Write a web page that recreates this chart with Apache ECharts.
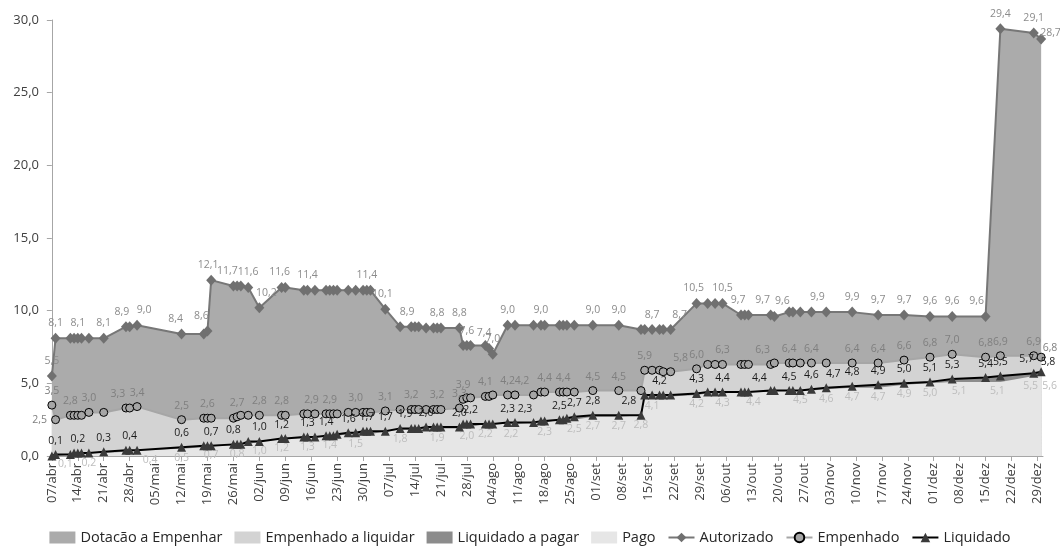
<!DOCTYPE html>
<html><head><meta charset="utf-8">
<script src="https://cdn.jsdelivr.net/npm/echarts@6/dist/echarts.min.js"></script>
<style>html,body{margin:0;padding:0;background:#fff}#c{width:1060px;height:548px}</style>
</head><body><div id="c"></div>
<script>
// ---- data ----
const dates = ['07/04','08/04','12/04','13/04','14/04','15/04','17/04','21/04','27/04','28/04',
 '30/04','12/05','18/05','19/05','20/05','26/05','27/05','28/05','30/05','02/06',
 '08/06','09/06','14/06','15/06','17/06','20/06','21/06','22/06','23/06','26/06',
 '28/06','30/06','01/07','02/07','06/07','10/07','13/07','14/07','15/07','17/07',
 '19/07','20/07','21/07','26/07','27/07','28/07','29/07','02/08','03/08','04/08',
 '08/08','10/08','15/08','17/08','18/08','22/08','23/08','24/08','26/08','31/08',
 '07/09','13/09','14/09','16/09','18/09','19/09','21/09','28/09','01/10','03/10',
 '05/10','10/10','11/10','12/10','18/10','19/10','23/10','24/10','26/10','29/10',
 '02/11','09/11','16/11','23/11','30/11','06/12','15/12','19/12','28/12','30/12'];
const autorizado = [5.5,8.1,8.1,8.1,8.1,8.1,8.1,8.1,8.9,8.9,
 9.0,8.4,8.4,8.6,12.1,11.7,11.7,11.7,11.6,10.2,
 11.6,11.6,11.4,11.4,11.4,11.4,11.4,11.4,11.4,11.4,
 11.4,11.4,11.4,11.4,10.1,8.9,8.9,8.9,8.9,8.8,
 8.8,8.8,8.8,8.8,7.6,7.6,7.6,7.6,7.4,7.0,
 9.0,9.0,9.0,9.0,9.0,9.0,9.0,9.0,9.0,9.0,
 9.0,8.7,8.7,8.7,8.7,8.7,8.7,10.5,10.5,10.5,
 10.5,9.7,9.7,9.7,9.7,9.6,9.9,9.9,9.9,9.9,
 9.9,9.9,9.7,9.7,9.6,9.6,9.6,29.4,29.1,28.7];
const empenhado = [3.5,2.5,2.8,2.8,2.8,2.8,3.0,3.0,3.3,3.3,
 3.4,2.5,2.6,2.6,2.6,2.6,2.7,2.8,2.8,2.8,
 2.8,2.8,2.9,2.9,2.9,2.9,2.9,2.9,2.9,3.0,
 3.0,3.0,3.0,3.0,3.1,3.2,3.2,3.2,3.2,3.2,
 3.2,3.2,3.2,3.3,3.9,4.0,4.0,4.1,4.1,4.2,
 4.2,4.2,4.2,4.4,4.4,4.4,4.4,4.4,4.4,4.5,
 4.5,4.5,5.9,5.9,5.9,5.8,5.8,6.0,6.3,6.3,
 6.3,6.3,6.3,6.3,6.3,6.4,6.4,6.4,6.4,6.4,
 6.4,6.4,6.4,6.6,6.8,7.0,6.8,6.9,6.9,6.8];
const liquidado = [0.0,0.1,0.1,0.2,0.2,0.2,0.2,0.3,0.4,0.4,
 0.4,0.6,0.7,0.7,0.7,0.8,0.8,0.8,1.0,1.0,
 1.2,1.2,1.3,1.3,1.3,1.4,1.4,1.4,1.5,1.6,
 1.6,1.7,1.7,1.7,1.7,1.9,1.9,1.9,1.9,2.0,
 2.0,2.0,2.0,2.0,2.2,2.2,2.2,2.2,2.2,2.2,
 2.3,2.3,2.3,2.4,2.4,2.5,2.5,2.6,2.7,2.8,
 2.8,2.8,4.2,4.2,4.2,4.2,4.2,4.3,4.4,4.4,
 4.4,4.4,4.4,4.4,4.5,4.5,4.5,4.5,4.5,4.6,
 4.7,4.8,4.9,5.0,5.1,5.3,5.4,5.5,5.7,5.8];
const pago = [0.0,0.0,0.1,0.1,0.1,0.1,0.2,0.2,0.3,0.3,
 0.4,0.5,0.6,0.6,0.7,0.7,0.8,0.8,0.8,1.0,
 1.2,1.2,1.2,1.3,1.3,1.4,1.4,1.4,1.4,1.5,
 1.5,1.5,1.5,1.5,1.7,1.8,1.8,1.8,1.8,1.9,
 1.9,1.9,1.9,1.9,2.0,2.0,2.0,2.2,2.2,2.2,
 2.2,2.2,2.3,2.3,2.3,2.5,2.5,2.5,2.5,2.7,
 2.7,2.8,4.1,4.1,4.1,4.1,4.1,4.2,4.3,4.3,
 4.3,4.4,4.4,4.4,4.4,4.5,4.5,4.5,4.5,4.5,
 4.6,4.7,4.7,4.9,5.0,5.1,5.1,5.1,5.5,5.6];
// points (1-based position in the lists above) that carry a data label
const labelsAutorizado = [1,2,5,8,9,11,12,14,15,16,19,20,21,24,33,35,36,42,44,46,49,50,51,54,60,61,64,67,68,71,72,75,76,80,82,83,84,85,86,87,88,89,90];
const labelsEmpenhado = [1,2,3,7,9,11,12,14,17,20,21,24,27,31,35,37,42,44,45,48,51,52,55,57,60,61,63,67,68,71,75,77,80,82,83,84,85,86,87,88,89,90];
const labelsLiquidado = [2,5,8,10,12,15,16,20,21,24,26,30,33,35,36,40,44,47,51,52,56,59,60,62,65,68,71,74,77,80,81,82,83,84,85,86,87,88,89,90];
const labelsPago = [3,7,11,12,15,17,20,21,24,27,31,36,42,46,48,52,55,59,60,61,62,64,68,71,74,79,81,82,83,84,85,86,88,89,90];
const tickLabels = ['07/abr','14/abr','21/abr','28/abr','05/mai','12/mai','19/mai','26/mai','02/jun','09/jun',
 '16/jun','23/jun','30/jun','07/jul','14/jul','21/jul','28/jul','04/ago','11/ago','18/ago',
 '25/ago','01/set','08/set','15/set','22/set','29/set','06/out','13/out','20/out','27/out',
 '03/nov','10/nov','17/nov','24/nov','01/dez','08/dez','15/dez','22/dez','29/dez'];

// ---- label layout tweaks (horizontal nudges in px, keyed by point number) ----
const nudge = {
  A: {9:-4, 11:7, 12:-6, 14:-6, 15:-3, 16:-6, 20:7, 21:-2, 35:-3, 36:7, 49:-5, 67:9, 68:-3, 72:-3, 75:-8, 76:8, 80:6, 87:-9},
  E: {9:-8, 24:4, 52:7, 67:10, 75:-8},
  L: {36:5, 52:10, 62:-12, 74:11, 81:7, 89:-7},
  P: {3:-5, 11:13, 52:-4, 74:5, 86:7, 88:-3, 89:-3}
};
const lastOffset = { A: [-10, -6], E: [-7, -9], L: [-9, -10], P: [-3, 11] };
const specialPos = { E: {2: 'left'} };

// ---- helpers ----
const meses = ['jan','fev','mar','abr','mai','jun','jul','ago','set','out','nov','dez'];
const YEAR = 2014;
const base = Date.UTC(YEAR, 3, 7);
function dayOf(d, m) { return Math.round((Date.UTC(YEAR, m - 1, d) - base) / 86400000); }
const xDays = dates.map(s => { const [d, m] = s.split('/').map(Number); return dayOf(d, m); });
const tickDays = tickLabels.map(s => { const [d, mn] = s.split('/'); return dayOf(+d, meses.indexOf(mn) + 1); });
const tickMap = {}; tickDays.forEach((v, i) => tickMap[v] = tickLabels[i]);
const fmt = v => (Math.round(v * 10) / 10).toFixed(1).replace('.', ',');
const N = dates.length;

function mk(values, labelList, pos, key) {
  const set = new Set(labelList);
  return values.map((v, i) => {
    const n = i + 1;
    const item = { value: [xDays[i], v] };
    if (set.has(n)) {
      if (n === N) item.label = { show: true, position: 'right', distance: 4, offset: lastOffset[key] };
      else {
        const p = (specialPos[key] && specialPos[key][n]) || pos;
        item.label = { show: true, position: p, offset: [(nudge[key][n] || 0), 0] };
      }
    }
    return item;
  });
}

const FONT = 'Open Sans';
const labelBase = (color) => ({ show: false, fontFamily: FONT, fontSize: 10.5, color: color, distance: 4, formatter: p => fmt(p.value[1]) });

// Each band is drawn as an area from 0 up to its cumulative total; later bands cover earlier ones.
const areaSeries = (name, vals, color, z) => ({
  name, type: 'line', data: vals.map((v, i) => [xDays[i], v]),
  symbol: 'none', lineStyle: { width: 0 }, itemStyle: { color },
  areaStyle: { color, opacity: 1, origin: 'start' }, z, silent: true
});

const option = {
  animation: false,
  textStyle: { fontFamily: FONT },
  grid: { left: 50, right: 17, top: 20, bottom: 92, containLabel: false },
  legend: {
    top: 530, left: 'center', itemWidth: 26, itemHeight: 12, itemGap: 12, padding: 0,
    textStyle: { fontFamily: FONT, fontSize: 14.5, color: '#262626' },
    data: [
      { name: 'Dotacão a Empenhar', icon: 'rect' },
      { name: 'Empenhado a liquidar', icon: 'rect' },
      { name: 'Liquidado a pagar', icon: 'rect' },
      { name: 'Pago', icon: 'rect' },
      'Autorizado', 'Empenhado', 'Liquidado'
    ]
  },
  xAxis: {
    type: 'value', min: -0.5, max: 267.5,
    axisLine: { show: true, onZero: false, lineStyle: { color: '#a6a6a6', width: 1 } },
    axisTick: { show: true, customValues: tickDays, length: 5, lineStyle: { color: '#a6a6a6' } },
    axisLabel: { customValues: tickDays, rotate: 90, margin: 7, fontFamily: FONT, fontSize: 13, color: '#404040',
      formatter: v => tickMap[Math.round(v)] || '' },
    splitLine: { show: false }
  },
  yAxis: {
    type: 'value', min: 0, max: 30, interval: 5,
    axisLine: { show: true, lineStyle: { color: '#a6a6a6' } },
    axisTick: { show: true, length: 5, lineStyle: { color: '#a6a6a6' } },
    axisLabel: { fontFamily: FONT, fontSize: 13, color: '#404040', margin: 11, formatter: v => fmt(v) },
    splitLine: { show: false }
  },
  series: [
    areaSeries('Dotacão a Empenhar', autorizado, '#ababab', 1),
    areaSeries('Empenhado a liquidar', empenhado, '#d3d3d3', 2),
    areaSeries('Liquidado a pagar', liquidado, '#8c8c8c', 3),
    Object.assign(areaSeries('Pago', pago, '#e6e6e6', 4), {
      symbol: 'circle', symbolSize: 0.1, showSymbol: true,
      data: mk(pago, labelsPago, 'bottom', 'P'), label: labelBase('#bdbdbd')
    }),
    {
      name: 'Autorizado', type: 'line', z: 5, data: mk(autorizado, labelsAutorizado, 'top', 'A'),
      symbol: 'diamond', symbolSize: [10, 11], showSymbol: true,
      lineStyle: { color: '#777777', width: 2 }, itemStyle: { color: '#707070' },
      label: labelBase('#8c8c8c')
    },
    {
      name: 'Empenhado', type: 'line', z: 6, data: mk(empenhado, labelsEmpenhado, 'top', 'E'),
      symbol: 'circle', symbolSize: 8, showSymbol: true,
      lineStyle: { color: '#a6a6a6', width: 2 }, itemStyle: { color: '#a6a6a6', borderColor: '#000', borderWidth: 1 },
      label: labelBase('#7f7f7f')
    },
    {
      name: 'Liquidado', type: 'line', z: 7, data: mk(liquidado, labelsLiquidado, 'top', 'L'),
      symbol: 'triangle', symbolSize: 9, showSymbol: true,
      lineStyle: { color: '#000000', width: 2 }, itemStyle: { color: '#3a3a3a' },
      label: labelBase('#1a1a1a')
    }
  ]
};
const chart = echarts.init(document.getElementById('c'), null, { renderer: 'canvas' });
chart.setOption(option);
</script></body></html>
